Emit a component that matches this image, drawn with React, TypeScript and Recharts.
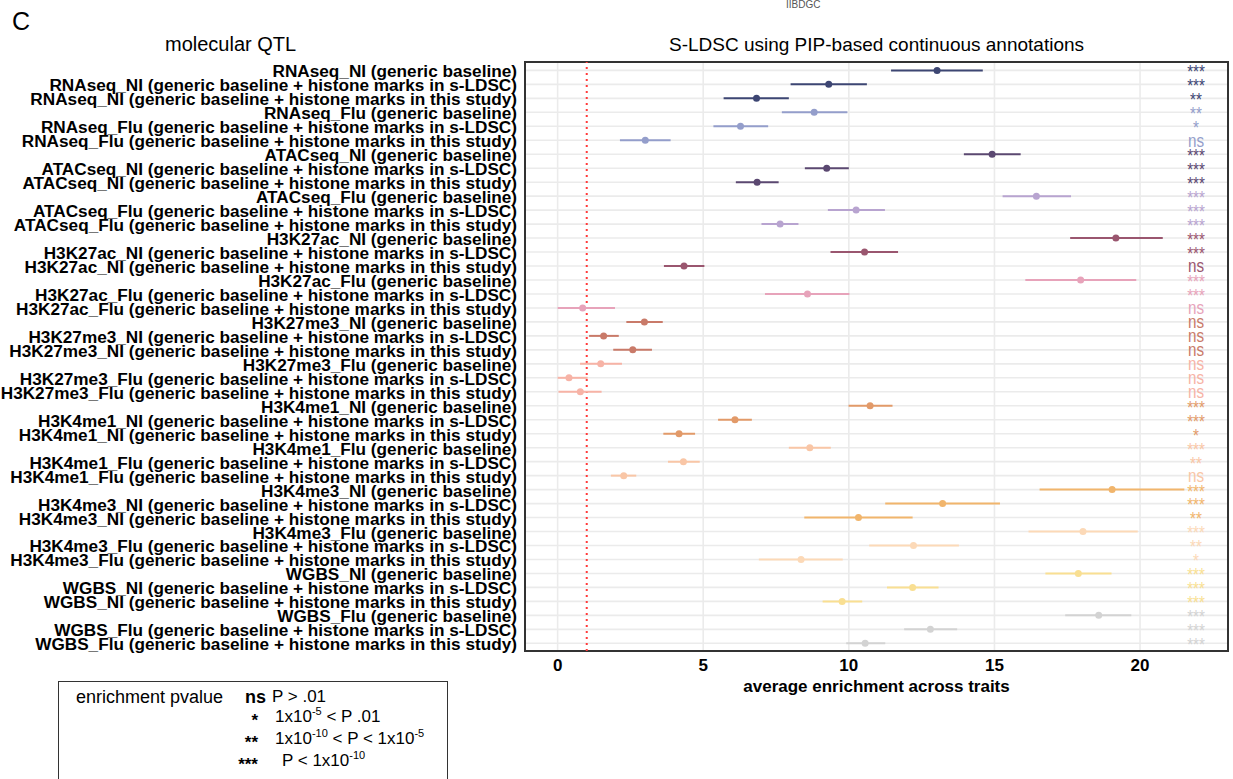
import React from "react";
import {
  CartesianGrid,
  ErrorBar,
  ReferenceArea,
  ReferenceLine,
  Scatter,
  ScatterChart,
  XAxis,
  YAxis,
} from "recharts";

const ASSAYS = ["RNAseq", "ATACseq", "H3K27ac", "H3K27me3", "H3K4me1", "H3K4me3", "WGBS"];
const CONDITIONS = ["NI", "Flu"];
const MODELS = [
  "generic baseline",
  "generic baseline + histone marks in s-LDSC",
  "generic baseline + histone marks in this study",
];

const ROW_LABELS = ASSAYS.flatMap((a) =>
  CONDITIONS.flatMap((c) => MODELS.map((m) => `${a}_${c} (${m})`))
);

// average enrichment, with the ends of the error bar
const ESTIMATE = [
  13.03, 9.31, 6.83, 8.81, 6.28, 3.01,
  14.92, 9.24, 6.85, 16.44, 10.25, 7.64,
  19.17, 10.54, 4.34, 17.96, 8.58, 0.86,
  2.98, 1.58, 2.58, 1.48, 0.39, 0.78,
  10.73, 6.09, 4.17, 8.66, 4.32, 2.27,
  19.04, 13.22, 10.33, 18.04, 12.22, 8.36,
  17.88, 12.19, 9.77, 18.58, 12.8, 10.56,
];
const LOWER = [
  11.45, 8.0, 5.7, 7.7, 5.35, 2.14,
  13.95, 8.49, 6.12, 15.28, 9.28, 7.0,
  17.6, 9.37, 3.65, 16.06, 7.12, 0.0,
  2.36, 1.08, 1.91, 0.77, 0.0, 0.03,
  9.99, 5.51, 3.63, 7.94, 3.79, 1.83,
  16.55, 11.25, 8.47, 16.17, 10.7, 6.91,
  16.75, 11.31, 9.1, 17.43, 11.9, 9.91,
];
const UPPER = [
  14.6, 10.62, 7.94, 9.95, 7.23, 3.88,
  15.9, 10.0, 7.59, 17.63, 11.24, 8.27,
  20.78, 11.69, 5.04, 19.87, 10.02, 1.97,
  3.61, 2.1, 3.24, 2.21, 1.03, 1.51,
  11.5, 6.67, 4.72, 9.38, 4.88, 2.7,
  21.52, 15.19, 12.19, 19.92, 13.78, 9.79,
  19.02, 13.08, 10.46, 19.7, 13.72, 11.25,
];
const SIGNIF = [
  "***", "***", "**", "**", "*", "ns",
  "***", "***", "***", "***", "***", "***",
  "***", "***", "ns", "***", "***", "ns",
  "ns", "ns", "ns", "ns", "ns", "ns",
  "***", "***", "*", "***", "**", "ns",
  "***", "***", "**", "***", "**", "*",
  "***", "***", "***", "***", "***", "***",
];

// one colour per assay x condition (three rows each)
const GROUP_COLORS = [
  "#3d4673", "#949ecb",
  "#5b4871", "#b8a4d0",
  "#9a566f", "#e7a3ba",
  "#c97a69", "#f7b3a6",
  "#e29a69", "#f9c6a6",
  "#f1b56c", "#fcd9b7",
  "#f9df92", "#d3d3d3",
];

const X_TICKS = [0, 5, 10, 15, 20];

const FONT = "'Liberation Sans', Arial, Helvetica, sans-serif";

const rows = ROW_LABELS.map((label, i) => ({
  row: i + 1,
  label,
  est: ESTIMATE[i],
  err: [ESTIMATE[i] - LOWER[i], UPPER[i] - ESTIMATE[i]],
}));
const ROW_TICKS = rows.map((r) => r.row);
const groups = GROUP_COLORS.map((color, g) => ({
  color,
  data: rows.slice(g * 3, g * 3 + 3),
}));

const rowColor = (i: number) => GROUP_COLORS[Math.floor(i / 3)];

function RowTick(props: any) {
  const { x, y, payload } = props;
  const i = Math.round(payload.value) - 1;
  return (
    <text
      x={x - 8}
      y={y + 7}
      textAnchor="end"
      fontFamily={FONT}
      fontSize={17.2}
      fontWeight={700}
      fill="#000"
    >
      {ROW_LABELS[i]}
    </text>
  );
}

function SigTick(props: any) {
  const { x, y, payload } = props;
  const i = Math.round(payload.value) - 1;
  const s = SIGNIF[i];
  const dy = s === "ns" ? 6.4 : 7.9;
  return (
    <text
      transform={`translate(${x - 32},${y + dy}) scale(0.8,1)`}
      textAnchor="middle"
      fontFamily={FONT}
      fontSize={19}
      fill={rowColor(i)}
    >
      {s}
    </text>
  );
}

function XTick(props: any) {
  const { x, y, payload } = props;
  return (
    <text x={x} y={y + 20} textAnchor="middle" fontFamily={FONT} fontSize={17} fontWeight={700} fill="#000">
      {payload.value}
    </text>
  );
}

const abs = (left: number, top: number, extra: React.CSSProperties = {}): React.CSSProperties => ({
  position: "absolute",
  left,
  top,
  whiteSpace: "nowrap",
  ...extra,
});

const sup: React.CSSProperties = { fontSize: 11, verticalAlign: 7, lineHeight: 0 };
const star: React.CSSProperties = { width: 58, textAlign: "right", fontSize: 17, fontWeight: 700, lineHeight: "20px" };

export default function App() {
  return (
    <div
      style={{
        position: "absolute",
        left: 0,
        top: 0,
        width: 1233,
        height: 779,
        background: "#fff",
        fontFamily: FONT,
        color: "#000",
        overflow: "hidden",
      }}
    >
      <div style={abs(12, 9, { fontSize: 25, lineHeight: "25px" })}>C</div>
      <div style={abs(786, 0, { fontSize: 10, lineHeight: "10px", color: "#555" })}>IIBDGC</div>
      <div style={abs(165, 34, { fontSize: 20, lineHeight: "20px" })}>molecular QTL</div>
      <div style={abs(525, 35, { width: 703, textAlign: "center", fontSize: 19, lineHeight: "19px" })}>
        S-LDSC using PIP-based continuous annotations
      </div>

      <ScatterChart width={1233} height={779} margin={{ top: 62, right: 5, bottom: 0, left: 0 }}>
        <CartesianGrid stroke="#ebebeb" strokeWidth={1.6} />
        <XAxis
          dataKey="est"
          type="number"
          domain={[-1.12, 23.02]}
          allowDataOverflow
          ticks={X_TICKS}
          height={128}
          tick={<XTick />}
          tickSize={0}
          tickMargin={0}
          axisLine={false}
          tickLine={false}
        />
        <YAxis
          dataKey="row"
          type="number"
          domain={[0.4, 42.55]}
          allowDataOverflow
          reversed
          ticks={ROW_TICKS}
          interval={0}
          width={525}
          tick={<RowTick />}
          tickSize={0}
          tickMargin={0}
          axisLine={false}
          tickLine={false}
        />
        <YAxis
          yAxisId="sig"
          orientation="right"
          mirror
          dataKey="row"
          type="number"
          domain={[0.4, 42.55]}
          allowDataOverflow
          reversed
          ticks={ROW_TICKS}
          interval={0}
          width={1}
          tick={<SigTick />}
          tickSize={0}
          tickMargin={0}
          axisLine={false}
          tickLine={false}
        />
        <ReferenceLine x={1} stroke="#ff3b3b" strokeWidth={2} strokeDasharray="2 4" />
        {groups.map((g, k) => (
          <Scatter
            key={k}
            data={g.data}
            isAnimationActive={false}
            shape={(p: any) => <circle cx={p.cx} cy={p.cy} r={3.5} fill={g.color} />}
          >
            <ErrorBar dataKey="err" direction="x" width={0} stroke={g.color} strokeWidth={2} />
          </Scatter>
        ))}
        <ReferenceArea
          x1={-1.12}
          x2={23.02}
          y1={0.4}
          y2={42.55}
          fill="none"
          fillOpacity={0}
          stroke="#333"
          strokeWidth={2}
          ifOverflow="visible"
        />
      </ScatterChart>

      <div style={abs(525, 678, { width: 703, textAlign: "center", fontSize: 17, fontWeight: 700, lineHeight: "17px" })}>
        average enrichment across traits
      </div>

      <div
        style={abs(58, 681, {
          width: 390,
          height: 110,
          border: "1.5px solid #333",
          boxSizing: "border-box",
        })}
      />
      <div style={abs(76, 687, { fontSize: 18, lineHeight: "20px" })}>enrichment pvalue</div>
      <div style={abs(200, 687, { width: 66, textAlign: "right", fontSize: 18, fontWeight: 700, lineHeight: "20px" })}>ns</div>
      <div style={abs(272, 687, { fontSize: 17, lineHeight: "20px" })}>P &gt; .01</div>

      <div style={abs(200, 711, star)}>*</div>
      <div style={abs(275, 707, { fontSize: 17, lineHeight: "20px" })}>
        1x10<span style={sup}>-5</span> &lt; P .01
      </div>

      <div style={abs(200, 733, star)}>**</div>
      <div style={abs(275, 729, { fontSize: 17, lineHeight: "20px" })}>
        1x10<span style={sup}>-10</span> &lt; P &lt; 1x10<span style={sup}>-5</span>
      </div>

      <div style={abs(200, 755, star)}>***</div>
      <div style={abs(282, 751, { fontSize: 17, lineHeight: "20px" })}>
        P &lt; 1x10<span style={sup}>-10</span>
      </div>
    </div>
  );
}
